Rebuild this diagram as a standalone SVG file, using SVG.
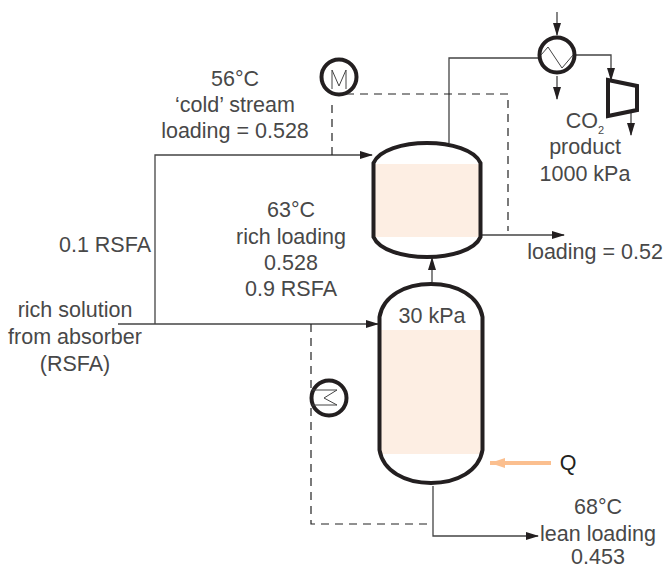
<svg xmlns="http://www.w3.org/2000/svg" width="667" height="569" viewBox="0 0 667 569">
<style>
text{font-family:"Liberation Sans",Arial,sans-serif;font-size:21.500px;fill:#484848;text-anchor:middle}
.l{fill:none;stroke:#444;stroke-width:1.300}
.d{fill:none;stroke:#222;stroke-width:1.200;stroke-dasharray:8 6}
.v{fill:none;stroke:#231f20;stroke-width:4}
.c{fill:#fff;stroke:#231f20;stroke-width:4}
.t{fill:none;stroke:#444;stroke-width:1}
</style>
<defs>
<marker id="a" markerUnits="userSpaceOnUse" markerWidth="13" markerHeight="8" refX="12" refY="4" orient="auto"><path d="M0 0L13 4L0 8Z" fill="#231f20"/></marker>
<marker id="q" markerUnits="userSpaceOnUse" markerWidth="16" markerHeight="10" refX="15" refY="5" orient="auto"><path d="M0 0L15 5L0 10Z" fill="#fbbf8f"/></marker>
</defs>
<rect width="667" height="569" fill="#fff"/>
<g id="connectors">
<path class="l" marker-end="url(#a)" d="M155 324V155H372"/>
<path class="l" marker-end="url(#a)" d="M118 324H378"/>
<path class="l" marker-end="url(#a)" d="M432 282V258"/>
<path class="l" d="M449 143V58H539"/>
<path class="l" marker-end="url(#a)" d="M481 235H564"/>
<path class="l" marker-end="url(#a)" d="M557 12V35"/>
<path class="l" marker-end="url(#a)" d="M557 76V99"/>
<path class="l" marker-end="url(#a)" d="M576 55H611V80"/>
<path class="l" marker-end="url(#a)" d="M631 113V135"/>
<path class="l" marker-end="url(#a)" d="M433 486V536H538"/>
<path class="d" d="M332 155V101"/>
<path class="d" d="M346 94H508V231"/>
<path class="d" d="M311 324V524H433"/>
<path d="M551 463H490" fill="none" stroke="#fbbf8f" stroke-width="4" marker-end="url(#q)"/>
</g>
<g id="flash-top">
<rect x="375" y="164" width="105" height="73" fill="#fdeee3"/>
<path class="v" d="M373.500 163C379 150 403 143 427 143C451 143 475 150 480.500 163V237C475 250 451 257 427 257C403 257 379 250 373.500 237Z"/>
</g>
<g id="flash-bottom">
<rect x="381" y="330" width="101" height="124" fill="#fdeee3"/>
<path class="v" d="M379.500 317C383 296 405 284 431 284C457 284 479 296 482.500 317V450C479 471 457 483 431 483C405 483 383 471 379.500 450Z"/>
<text x="432" y="323">30 kPa</text>
</g>
<g id="motor">
<circle class="c" cx="339" cy="77" r="17.500"/>
<path class="t" d="M332 89V70L339 86L346 70V89"/>
</g>
<g id="cooler">
<circle class="c" cx="557" cy="55" r="17.500"/>
<path class="t" d="M541 55L548 47L562 68L573 55"/>
</g>
<g id="reheater">
<circle class="c" cx="329" cy="398" r="17.500"/>
<path class="t" d="M312 390H337L324 398L337 405H312"/>
</g>
<g id="compressor">
<path d="M608 80L637 86V110L608 116Z" fill="#fff" stroke="#231f20" stroke-width="4"/>
</g>
<g id="labels">
<text x="235" y="86">56°C</text>
<text x="235" y="112">‘cold’ stream</text>
<text x="235" y="138">loading = 0.528</text>
<text x="105" y="252">0.1 RSFA</text>
<text x="291" y="217">63°C</text>
<text x="291" y="244">rich loading</text>
<text x="291" y="270">0.528</text>
<text x="291" y="296">0.9 RSFA</text>
<text x="75" y="317">rich solution</text>
<text x="75" y="344">from absorber</text>
<text x="75" y="371">(RSFA)</text>
<text x="585" y="128">CO<tspan font-size="11" dy="6">2</tspan></text>
<text x="585" y="154">product</text>
<text x="585" y="181">1000 kPa</text>
<text x="595" y="259">loading = 0.52</text>
<text x="568" y="470" style="fill:#231f20">Q</text>
<text x="598" y="514">68°C</text>
<text x="598" y="541">lean loading</text>
<text x="598" y="564">0.453</text>
</g>
</svg>
